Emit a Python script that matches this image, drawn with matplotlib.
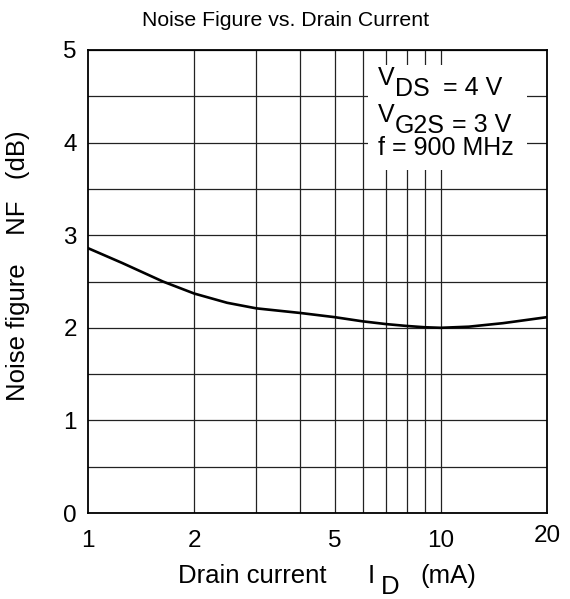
import matplotlib
matplotlib.use("Agg")
import matplotlib.pyplot as plt
from matplotlib.ticker import FixedLocator, MultipleLocator, NullFormatter
import matplotlib.transforms as mtrans
import matplotlib.patches as mpatches

plt.rcParams['font.family'] = ['Liberation Sans', 'DejaVu Sans']

# Data
drain_current_mA = [1, 1.25, 1.63, 2, 2.48, 3, 4, 5, 6, 7, 8, 9, 10, 12, 15, 16.4, 20]
noise_figure_dB = [2.86, 2.70, 2.50, 2.37, 2.27, 2.21, 2.16, 2.115, 2.07, 2.04, 2.02,
                   2.006, 2.0, 2.012, 2.05, 2.07, 2.115]
x_tick_values = [1, 2, 5, 10, 20]
x_tick_labels = ["1", "2", "5", "10", "20"]
x_grid_values = [2, 3, 4, 5, 6, 7, 8, 9, 10]
y_tick_values = [0, 1, 2, 3, 4, 5]

fig = plt.figure(figsize=(5.70, 5.99), dpi=100)
ax = fig.add_axes([88/570, 1 - 513/599, (547-88)/570, (513-50)/599])
ax.set_xscale('log')
ax.set_xlim(1, 20)
ax.set_ylim(0, 5)

ax.xaxis.set_major_locator(FixedLocator(x_tick_values))
ax.set_xticklabels(x_tick_labels)
ax.xaxis.set_minor_locator(FixedLocator([]))
ax.xaxis.set_minor_formatter(NullFormatter())
ax.yaxis.set_major_locator(FixedLocator(y_tick_values))
ax.yaxis.set_minor_locator(MultipleLocator(0.5))
ax.tick_params(which='both', length=0, labelsize=17.5, pad=8)
ax.tick_params(axis='x', pad=12)

for xv in x_grid_values:
    ax.axvline(xv, color='#222222', lw=0.9, zorder=1)
ax.grid(True, axis='y', which='both', color='#222222', lw=0.9, zorder=1)
ax.set_axisbelow(True)
for s in ax.spines.values():
    s.set_linewidth(1.3)

# Shift the "20" label up slightly as in reference
for lbl in ax.get_xticklabels():
    if lbl.get_text() == "20":
        lbl.set_transform(lbl.get_transform() + mtrans.ScaledTranslation(0, 5/100, fig.dpi_scale_trans))

# White box behind condition text
box = mpatches.Rectangle((6.22, 3.70), 17.5 - 6.22, 4.84 - 3.70, facecolor='white',
                         edgecolor='none', zorder=2, transform=ax.transData)
ax.add_patch(box)

ax.plot(drain_current_mA, noise_figure_dB, color='black', lw=1.9, zorder=3,
        solid_joinstyle='round')

fs = 18
def chain(x, y, parts):
    t = ax.text(x, y, parts[0][0], fontsize=fs, zorder=4, va='baseline',
                transform=ax.transAxes)
    prev = t
    for txt, dy in parts[1:]:
        prev = ax.annotate(txt, xy=(1, 0), xycoords=prev, xytext=(0, dy),
                           textcoords='offset points', fontsize=fs, va='baseline',
                           ha='left', zorder=4)
    return t

chain((378-88)/459, (513-85)/463, [("V", 0), ("DS", -4), ("  = 4 V", 4)])
chain((378-88)/459, (513-122)/463, [("V", 0), ("G2S", -4), (" = 3 V", 4)])
ax.text((378-88)/459, (513-155)/463, "f = 900 MHz", fontsize=fs, zorder=4,
        va='baseline', transform=ax.transAxes)

fig.text(286/570, 1 - 20/599, "Noise Figure vs. Drain Current", fontsize=15.3,
         ha='center', va='center')
fig.text(18/570, 1 - 266/599, "Noise figure    NF   (dB)", fontsize=18.5,
         rotation=90, ha='center', va='center')

# x label pieces
fig.text(178/570, 1 - 583/599, "Drain current", fontsize=18.5, va='baseline')
t1 = fig.text(368/570, 1 - 583/599, "I", fontsize=18.5, va='baseline')
t2 = ax.annotate("D", xy=(1, 0), xycoords=t1, xytext=(4, -4), textcoords='offset points',
                 fontsize=18.5, va='baseline', annotation_clip=False)
fig.text(420/570, 1 - 583/599, "(mA)", fontsize=18.5, va='baseline')

fig.savefig("out.png", dpi=100)
